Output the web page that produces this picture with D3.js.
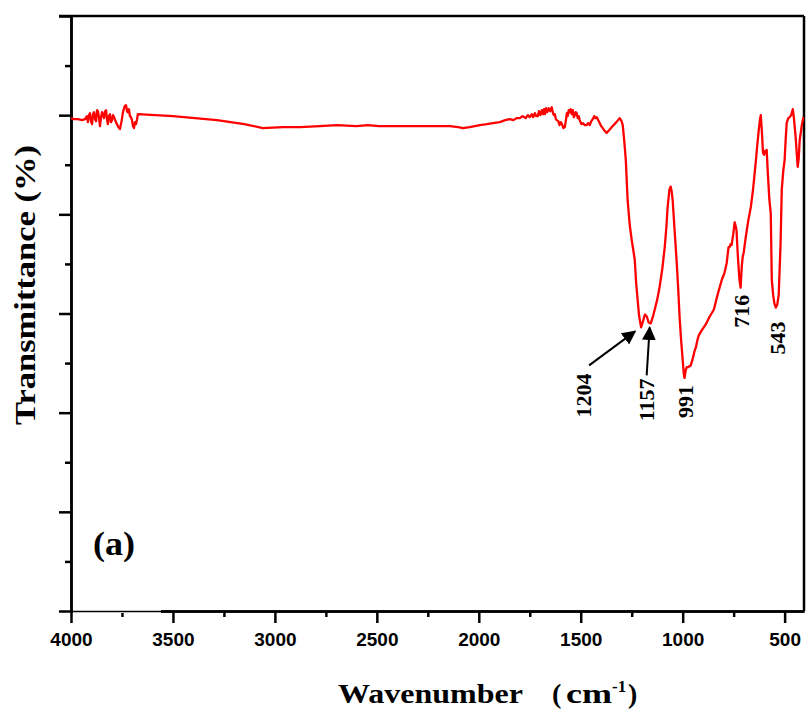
<!DOCTYPE html>
<html>
<head>
<meta charset="utf-8">
<script src="https://cdn.jsdelivr.net/npm/d3@7"></script>
<style>
  body { margin: 0; background: #fff; }
  .axis path, .axis line { stroke: #000; stroke-width: 2.5; }
  .axis text { font-family: "Liberation Sans", Arial, sans-serif; font-weight: bold; font-size: 19px; fill: #000; }
  .serif { font-family: "Liberation Serif", "Times New Roman", serif; font-weight: bold; fill: #000; }
</style>
</head>
<body>
<div id="chart"></div>
<script>
// FTIR spectrum (wavenumber in cm-1, transmittance in arbitrary %)
const wavenumber = [
  4000, 3985, 3966, 3945, 3931, 3922, 3917, 3912, 3907, 3902, 3897, 3892, 3887, 3882, 3877, 3872,
  3868, 3863, 3858, 3853, 3848, 3843, 3838, 3833, 3828, 3823, 3819, 3814, 3809, 3804, 3799, 3794,
  3789, 3782, 3775, 3768, 3760, 3752, 3745, 3737, 3730, 3725, 3721, 3716, 3711, 3706, 3701, 3696,
  3691, 3686, 3681, 3676, 3672, 3500, 3284, 3150, 3059, 2960, 2877, 2780, 2696, 2600, 2544, 2490,
  2436, 2300, 2206, 2142, 2100, 2078, 2044, 1995, 1960, 1931, 1897, 1870, 1848, 1830, 1815, 1799,
  1785, 1770, 1760, 1750, 1740, 1733, 1725, 1718, 1711, 1705, 1698, 1691, 1685, 1680, 1676, 1670,
  1665, 1660, 1657, 1650, 1642, 1636, 1632, 1627, 1622, 1618, 1610, 1604, 1598, 1592, 1585, 1578,
  1572, 1568, 1564, 1559, 1554, 1549, 1544, 1539, 1534, 1529, 1525, 1520, 1515, 1510, 1505, 1497,
  1490, 1480, 1471, 1463, 1456, 1448, 1441, 1434, 1428, 1422, 1414, 1407, 1400, 1392, 1382, 1373,
  1360, 1343, 1325, 1309, 1300, 1294, 1287, 1279, 1270, 1260, 1250, 1243, 1235, 1228, 1221, 1214,
  1204, 1195, 1185, 1176, 1167, 1157, 1147, 1137, 1125, 1113, 1100, 1088, 1080, 1074, 1065, 1059,
  1054, 1049, 1040, 1030, 1022, 1015, 1008, 1000, 995, 991, 985, 980, 972, 965, 960, 950,
  942, 935, 928, 921, 910, 900, 887, 870, 847, 830, 808, 795, 784, 778, 775, 770,
  765, 760, 752, 745, 740, 736, 730, 722, 716, 710, 705, 701, 690, 678, 666, 655,
  642, 634, 627, 620, 617, 612, 606, 600, 596, 592, 588, 582, 575, 568, 563, 556,
  550, 543, 536, 529, 520, 514, 507, 500, 495, 490, 482, 475, 468, 460, 455, 449,
  446, 440, 436, 431, 426, 421, 417, 412, 407
]
const transmittance = [
  49.7, 49.6, 49.6, 49.5, 49.6, 49.9, 49.3, 50.0, 50.2, 49.4, 49.1, 50.1, 50.3, 49.6, 49.4, 50.5,
  50.4, 49.8, 48.9, 49.7, 50.3, 50.1, 49.7, 50.4, 50.5, 49.5, 49.1, 49.9, 50.1, 49.3, 49.5, 50.0,
  49.8, 49.4, 49.1, 48.8, 48.6, 49.4, 50.3, 50.9, 51.0, 50.4, 50.3, 50.6, 49.9, 49.8, 49.5, 48.9,
  48.7, 49.3, 49.1, 49.6, 50.1, 49.9, 49.5, 49.1, 48.7, 48.8, 48.8, 48.9, 49.0, 48.9, 49.0, 48.9,
  48.9, 48.9, 48.9, 48.9, 48.8, 48.7, 48.8, 49.0, 49.1, 49.2, 49.3, 49.5, 49.6, 49.5, 49.7, 49.7,
  49.9, 49.7, 50.0, 49.8, 50.1, 49.8, 50.2, 49.9, 49.9, 50.4, 50.0, 50.5, 50.1, 50.6, 50.1, 50.7,
  50.3, 50.5, 50.7, 50.4, 50.8, 50.2, 50.0, 50.1, 49.6, 49.5, 49.4, 49.0, 49.3, 49.1, 48.7, 48.8,
  49.6, 50.2, 49.9, 50.5, 50.3, 50.6, 50.1, 50.5, 49.8, 50.0, 50.3, 50.2, 49.7, 49.9, 49.5, 49.1,
  49.2, 49.0, 49.0, 49.2, 49.0, 49.4, 49.6, 49.9, 49.7, 49.8, 49.5, 49.2, 48.9, 48.7, 48.4, 48.2,
  48.5, 48.9, 49.3, 49.7, 49.4, 49.0, 47.5, 45.5, 41.4, 39.0, 37.4, 36.5, 35.4, 33.0, 31.4, 29.8,
  28.6, 29.2, 29.9, 29.7, 29.1, 29.0, 29.6, 30.4, 31.4, 32.7, 34.5, 36.7, 38.7, 40.7, 42.5, 42.8,
  42.3, 41.4, 38.5, 35.4, 32.5, 29.6, 27.4, 25.3, 24.0, 23.5, 24.3, 24.6, 24.6, 24.7, 24.8, 25.5,
  26.2, 26.6, 27.3, 27.8, 28.2, 28.5, 28.9, 29.6, 30.4, 31.8, 33.4, 34.1, 35.1, 36.2, 36.7, 36.7,
  37.0, 36.9, 38.0, 39.2, 38.8, 38.4, 36.0, 33.5, 32.6, 34.8, 35.8, 36.1, 37.8, 39.4, 40.7, 42.5,
  45.2, 47.0, 48.5, 49.7, 50.0, 48.5, 46.2, 46.0, 46.4, 46.3, 46.5, 44.0, 41.5, 40.1, 33.4, 31.8,
  31.0, 30.6, 30.9, 31.9, 37.0, 42.5, 44.3, 45.5, 47.5, 49.2, 49.7, 49.8, 50.0, 50.6, 49.8, 48.5,
  47.8, 46.0, 44.8, 45.6, 47.5, 48.2, 48.8, 49.4, 49.8
]
const xTicks = [4000, 3500, 3000, 2500, 2000, 1500, 1000, 500]
const xMinorTicks = [3750, 3250, 2750, 2250, 1750, 1250, 750]
const yTicks = [0, 10, 20, 30, 40, 50, 60]
const yMinorTicks = [5, 15, 25, 35, 45, 55]
const peakLabels = ['1204', '1157', '991', '716', '543']
const peakWavenumbers = [1204, 1157, 991, 716, 543]

const width = 808, height = 709
const margin = {top: 16, right: 4, bottom: 98, left: 71}

const svg = d3.select('#chart').append('svg')
    .attr('width', width)
    .attr('height', height)

const x = d3.scaleLinear()
    .domain([4000, 405])
    .range([margin.left, width - margin.right])

const y = d3.scaleLinear()
    .domain([0, 60])
    .range([height - margin.bottom, margin.top])

const data = wavenumber.map((w, i) => ({w: w, t: transmittance[i]}))

// arrow head
svg.append('defs').append('marker')
    .attr('id', 'arrow')
    .attr('viewBox', '0 0 10 10')
    .attr('refX', 9).attr('refY', 5)
    .attr('markerWidth', 7).attr('markerHeight', 7)
    .attr('orient', 'auto')
  .append('path')
    .attr('d', 'M0,0 L10,5 L0,10 Z')
    .attr('fill', '#000')

// top and right frame
svg.append('line')
    .attr('x1', x(4000) - 12).attr('x2', x.range()[1])
    .attr('y1', y(60)).attr('y2', y(60))
    .attr('stroke', '#000').attr('stroke-width', 2.5)
svg.append('line')
    .attr('x1', x.range()[1]).attr('x2', x.range()[1])
    .attr('y1', y(60)).attr('y2', y(0))
    .attr('stroke', '#000').attr('stroke-width', 2.5)

// axes: major ticks long, minor short, all outward
svg.append('g')
    .attr('class', 'axis')
    .attr('transform', 'translate(0,' + y(0) + ')')
    .call(d3.axisBottom(x).tickValues(xTicks).tickSize(12).tickSizeOuter(0).tickPadding(10).tickFormat(d3.format('d')))
svg.append('g')
    .attr('class', 'axis')
    .attr('transform', 'translate(0,' + y(0) + ')')
    .call(d3.axisBottom(x).tickValues(xMinorTicks).tickSize(6).tickSizeOuter(0).tickFormat(''))
svg.append('g')
    .attr('class', 'axis')
    .attr('transform', 'translate(' + x(4000) + ',0)')
    .call(d3.axisLeft(y).tickValues(yTicks).tickSize(12).tickSizeOuter(0).tickFormat(''))
svg.append('g')
    .attr('class', 'axis')
    .attr('transform', 'translate(' + x(4000) + ',0)')
    .call(d3.axisLeft(y).tickValues(yMinorTicks).tickSize(6).tickSizeOuter(0).tickFormat(''))

// white panel behind the (a) tag, which hides part of the bottom axis
svg.append('rect')
    .attr('x', x(4000) + 2).attr('y', y(10) - 2)
    .attr('width', 88).attr('height', y(0) - y(10) + 4)
    .attr('fill', '#fff')
svg.append('line')
    .attr('x1', x(4000)).attr('x2', x(4000) + 90)
    .attr('y1', y(0) + 0.5).attr('y2', y(0) + 0.5)
    .attr('stroke', '#000').attr('stroke-width', 1.5)

// spectrum
const line = d3.line()
    .x(d => x(d.w))
    .y(d => y(d.t))

svg.append('path')
    .datum(data)
    .attr('fill', 'none')
    .attr('stroke', '#ff0000')
    .attr('stroke-width', 2.3)
    .attr('stroke-linejoin', 'round')
    .attr('d', line)

// peak labels, rotated, placed under each minimum
const labelShift = [-58, -4, 1, 1, 1]
const labelGap = [46, 55, 7, 7, 14]
peakWavenumbers.forEach((w, i) => {
  const t = transmittance[wavenumber.indexOf(w)]
  const cx = x(w) + labelShift[i]
  const top = y(t) + labelGap[i]
  svg.append('text')
      .attr('class', 'serif')
      .attr('transform', 'translate(' + cx + ',' + top + ') rotate(-90)')
      .attr('text-anchor', 'end')
      .attr('dy', '0.35em')
      .style('font-size', '22px')
      .text(peakLabels[i])
})

// arrows for the two close peaks
const p1 = {x: x(1204), y: y(28.6)}
const p2 = {x: x(1157), y: y(29.0)}
svg.append('line')
    .attr('x1', p1.x - 52).attr('y1', p1.y + 38)
    .attr('x2', p1.x - 6).attr('y2', p1.y + 4)
    .attr('stroke', '#000').attr('stroke-width', 2)
    .attr('marker-end', 'url(#arrow)')
svg.append('line')
    .attr('x1', p2.x - 4).attr('y1', p2.y + 52)
    .attr('x2', p2.x - 1).attr('y2', p2.y + 4)
    .attr('stroke', '#000').attr('stroke-width', 2)
    .attr('marker-end', 'url(#arrow)')

// (a) tag
svg.append('text')
    .attr('class', 'serif')
    .attr('x', 93).attr('y', 555)
    .attr('textLength', 42)
    .attr('lengthAdjust', 'spacingAndGlyphs')
    .style('font-size', '34px')
    .text('(a)')

// axis titles
svg.append('text')
    .attr('class', 'serif')
    .attr('transform', 'translate(35,285) rotate(-90)')
    .attr('text-anchor', 'middle')
    .attr('textLength', 280)
    .attr('lengthAdjust', 'spacingAndGlyphs')
    .style('font-size', '29px')
    .text('Transmittance (%)')

const xt = svg.append('text')
    .attr('class', 'serif')
    .attr('y', 703)
    .style('font-size', '28px')
xt.append('tspan').attr('x', 338).attr('textLength', 185).attr('lengthAdjust', 'spacingAndGlyphs').text('Wavenumber')
xt.append('tspan').attr('x', 552).text('(')
xt.append('tspan').attr('x', 566).attr('textLength', 46).attr('lengthAdjust', 'spacingAndGlyphs').text('cm')
xt.append('tspan').attr('x', 612).attr('dy', -11).style('font-size', '17px').text('-1')
xt.append('tspan').attr('x', 628).attr('dy', 11).text(')')
</script>
</body>
</html>
